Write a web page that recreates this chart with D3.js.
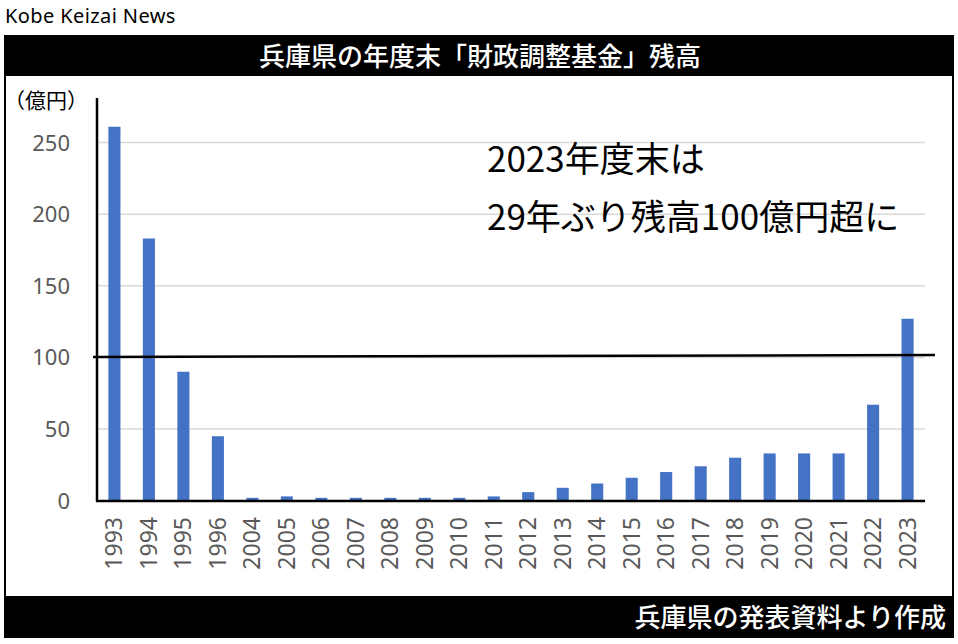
<!DOCTYPE html>
<html>
<head>
<meta charset="utf-8">
<script src="https://cdn.jsdelivr.net/npm/d3@7"></script>
<style>
  body { margin: 0; background: #fff; }
  text { font-family: "Noto Sans", "Noto Sans CJK JP", sans-serif; }
</style>
</head>
<body>
<svg id="chart" width="958" height="644"></svg>
<script>
var years = ["1993","1994","1995","1996","2004","2005","2006","2007","2008","2009","2010","2011",
             "2012","2013","2014","2015","2016","2017","2018","2019","2020","2021","2022","2023"];
var balance = [261,183,90,45,2,3,2,2,2,2,2,3,6,9,12,16,20,24,30,33,33,33,67,127];
var yTicks = [0,50,100,150,200,250];
var refValue = 101;

var titleText = "兵庫県の年度末「財政調整基金」残高";
var footText = "兵庫県の発表資料より作成";
var noteLines = ["2023年度末は", "29年ぶり残高100億円超に"];

var svg = d3.select("#chart");
var jp = '"Noto Sans CJK JP", sans-serif';

svg.append("text").attr("x", 5).attr("y", 23)
  .attr("font-size", 20).attr("letter-spacing", 0.4).attr("fill", "#000").text("Kobe Keizai News");

// frame
svg.append("rect").attr("x", 5).attr("y", 36).attr("width", 948).attr("height", 601)
  .attr("fill", "#fff").attr("stroke", "#000").attr("stroke-width", 2);
svg.append("rect").attr("x", 4).attr("y", 36).attr("width", 950).attr("height", 40).attr("fill", "#000");
svg.append("rect").attr("x", 4).attr("y", 596).attr("width", 950).attr("height", 42).attr("fill", "#000");

svg.append("text").attr("x", 480).attr("y", 66).attr("text-anchor", "middle")
  .style("font-family", jp).attr("font-size", 26).attr("font-weight", 500)
  .attr("fill", "#fff").text(titleText);
svg.append("text").attr("x", 946).attr("y", 627).attr("text-anchor", "end")
  .style("font-family", jp).attr("font-size", 26).attr("font-weight", 500)
  .attr("fill", "#fff").text(footText);

var x = d3.scaleBand().domain(years).range([97, 925]).paddingInner(0.65).paddingOuter(0.33);
var y = d3.scaleLinear().domain([0, 250]).range([500.7, 142.5]);

// gridlines
svg.append("g").selectAll("line").data(yTicks.filter(function (d) { return d > 0; }))
  .enter().append("line")
  .attr("x1", 97).attr("x2", 925)
  .attr("y1", function (d) { return y(d); }).attr("y2", function (d) { return y(d); })
  .attr("stroke", "#d9d9d9").attr("stroke-width", 1.5);

// y labels
svg.append("g").selectAll("text").data(yTicks).enter().append("text")
  .attr("x", 70).attr("y", function (d) { return y(d) + 8; })
  .attr("text-anchor", "end").attr("font-size", 22).attr("fill", "#595959")
  .text(function (d) { return d; });

svg.append("text").attr("x", 4).attr("y", 108)
  .style("font-family", jp).attr("font-size", 21).attr("fill", "#000").text("（億円）");

// bars
svg.append("g").selectAll("rect").data(balance).enter().append("rect")
  .attr("x", function (d, i) { return x(years[i]); })
  .attr("width", x.bandwidth())
  .attr("y", function (d) { return y(d); })
  .attr("height", function (d) { return y(0) - y(d); })
  .attr("fill", "#4472c4");

// axes lines
svg.append("line").attr("x1", 97).attr("x2", 97).attr("y1", 98).attr("y2", 501.5)
  .attr("stroke", "#000").attr("stroke-width", 2.5);
svg.append("line").attr("x1", 96).attr("x2", 925).attr("y1", 501).attr("y2", 501)
  .attr("stroke", "#000").attr("stroke-width", 2.5);

// x labels
svg.append("g").selectAll("text").data(years).enter().append("text")
  .attr("transform", function (d) {
    return "translate(" + (x(d) + x.bandwidth() / 2 + 8) + ",517) rotate(-90)";
  })
  .attr("text-anchor", "end").attr("font-size", 23).attr("fill", "#595959")
  .text(function (d) { return d; });

// 100 line
svg.append("line").attr("x1", 93).attr("x2", 935)
  .attr("y1", y(refValue) + 1).attr("y2", y(refValue) - 1)
  .attr("stroke", "#000").attr("stroke-width", 2.5);

// note
svg.append("g").selectAll("text").data(noteLines).enter().append("text")
  .attr("x", 487).attr("y", function (d, i) { return 172 + i * 58; })
  .style("font-family", jp).attr("font-size", 35).attr("fill", "#000")
  .text(function (d) { return d; });
</script>
</body>
</html>
